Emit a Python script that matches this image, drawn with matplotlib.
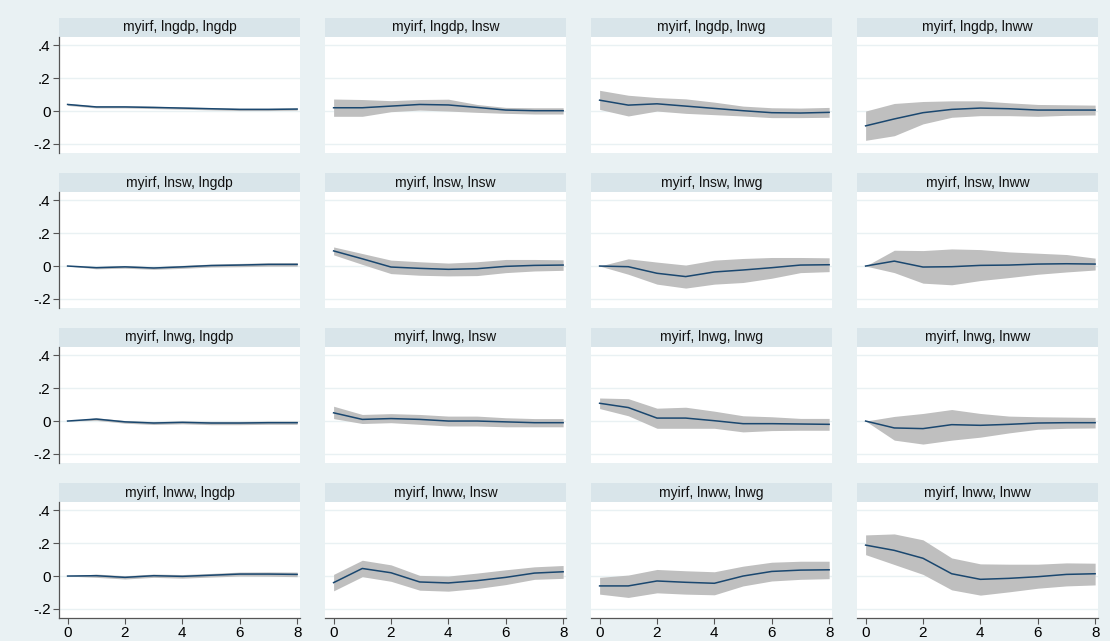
import numpy as np
import matplotlib.pyplot as plt
from matplotlib.patches import Rectangle

# variable order (impulse = row, response = column)
VARS = ["lngdp", "lnsw", "lnwg", "lnww"]
STEPS = [0, 1, 2, 3, 4, 5, 6, 7, 8]

# irf point estimates
irf = {
    ("lngdp", "lngdp"): [0.040, 0.025, 0.025, 0.022, 0.018, 0.014, 0.010, 0.010, 0.012],
    ("lngdp", "lnsw"): [0.020, 0.020, 0.030, 0.040, 0.037, 0.022, 0.006, 0.002, 0.002],
    ("lngdp", "lnwg"): [0.066, 0.036, 0.044, 0.030, 0.016, 0.002, -0.010, -0.012, -0.008],
    ("lngdp", "lnww"): [-0.090, -0.048, -0.010, 0.010, 0.018, 0.014, 0.006, 0.006, 0.006],
    ("lnsw", "lngdp"): [0.000, -0.010, -0.005, -0.012, -0.005, 0.003, 0.006, 0.010, 0.010],
    ("lnsw", "lnsw"): [0.092, 0.044, -0.006, -0.014, -0.020, -0.016, -0.002, 0.004, 0.006],
    ("lnsw", "lnwg"): [0.000, -0.004, -0.044, -0.064, -0.036, -0.024, -0.010, 0.006, 0.008],
    ("lnsw", "lnww"): [0.000, 0.030, -0.006, -0.004, 0.004, 0.006, 0.012, 0.014, 0.012],
    ("lnwg", "lngdp"): [0.000, 0.012, -0.005, -0.012, -0.008, -0.012, -0.012, -0.010, -0.010],
    ("lnwg", "lnsw"): [0.050, 0.010, 0.015, 0.010, 0.000, 0.000, -0.005, -0.010, -0.010],
    ("lnwg", "lnwg"): [0.108, 0.082, 0.018, 0.018, 0.002, -0.016, -0.016, -0.018, -0.020],
    ("lnwg", "lnww"): [0.000, -0.042, -0.046, -0.022, -0.026, -0.020, -0.012, -0.010, -0.010],
    ("lnww", "lngdp"): [0.000, 0.002, -0.008, 0.002, -0.002, 0.005, 0.012, 0.012, 0.010],
    ("lnww", "lnsw"): [-0.040, 0.046, 0.020, -0.036, -0.042, -0.028, -0.008, 0.018, 0.026],
    ("lnww", "lnwg"): [-0.060, -0.060, -0.030, -0.038, -0.044, 0.000, 0.028, 0.036, 0.038],
    ("lnww", "lnww"): [0.188, 0.156, 0.108, 0.014, -0.020, -0.014, -0.004, 0.010, 0.014],
}

# upper confidence bound
upper = {
    ("lngdp", "lngdp"): [0.046, 0.031, 0.031, 0.029, 0.025, 0.021, 0.017, 0.017, 0.019],
    ("lngdp", "lnsw"): [0.073, 0.070, 0.063, 0.070, 0.072, 0.040, 0.022, 0.020, 0.020],
    ("lngdp", "lnwg"): [0.126, 0.096, 0.082, 0.074, 0.054, 0.030, 0.020, 0.018, 0.022],
    ("lngdp", "lnww"): [0.000, 0.046, 0.058, 0.062, 0.062, 0.050, 0.040, 0.038, 0.036],
    ("lnsw", "lngdp"): [0.000, -0.003, 0.003, -0.004, 0.004, 0.012, 0.016, 0.020, 0.021],
    ("lnsw", "lnsw"): [0.116, 0.076, 0.036, 0.026, 0.018, 0.026, 0.040, 0.040, 0.038],
    ("lnsw", "lnwg"): [0.000, 0.044, 0.024, 0.006, 0.036, 0.046, 0.052, 0.052, 0.050],
    ("lnsw", "lnww"): [0.000, 0.096, 0.094, 0.104, 0.100, 0.086, 0.078, 0.070, 0.048],
    ("lnwg", "lngdp"): [0.000, 0.020, 0.003, -0.003, 0.001, -0.002, -0.002, 0.000, 0.000],
    ("lnwg", "lnsw"): [0.090, 0.040, 0.045, 0.040, 0.030, 0.030, 0.020, 0.015, 0.015],
    ("lnwg", "lnwg"): [0.140, 0.136, 0.078, 0.084, 0.060, 0.032, 0.026, 0.016, 0.016],
    ("lnwg", "lnww"): [0.000, 0.028, 0.046, 0.070, 0.046, 0.030, 0.026, 0.024, 0.022],
    ("lnww", "lngdp"): [0.000, 0.012, 0.002, 0.012, 0.009, 0.016, 0.024, 0.025, 0.024],
    ("lnww", "lnsw"): [0.010, 0.096, 0.068, 0.004, 0.000, 0.018, 0.038, 0.056, 0.064],
    ("lnww", "lnwg"): [-0.008, 0.006, 0.040, 0.032, 0.026, 0.060, 0.084, 0.090, 0.090],
    ("lnww", "lnww"): [0.250, 0.256, 0.220, 0.110, 0.074, 0.072, 0.072, 0.080, 0.078],
}

# lower confidence bound
lower = {
    ("lngdp", "lngdp"): [0.034, 0.019, 0.019, 0.015, 0.011, 0.007, 0.003, 0.003, 0.005],
    ("lngdp", "lnsw"): [-0.032, -0.032, -0.004, 0.006, 0.000, -0.008, -0.014, -0.018, -0.018],
    ("lngdp", "lnwg"): [0.010, -0.030, 0.000, -0.014, -0.022, -0.030, -0.040, -0.040, -0.038],
    ("lngdp", "lnww"): [-0.178, -0.150, -0.078, -0.038, -0.028, -0.028, -0.032, -0.026, -0.024],
    ("lnsw", "lngdp"): [0.000, -0.017, -0.013, -0.020, -0.014, -0.006, -0.004, -0.001, -0.001],
    ("lnsw", "lnsw"): [0.068, 0.010, -0.046, -0.056, -0.060, -0.058, -0.040, -0.030, -0.026],
    ("lnsw", "lnwg"): [0.000, -0.050, -0.110, -0.134, -0.110, -0.100, -0.074, -0.040, -0.034],
    ("lnsw", "lnww"): [0.000, -0.040, -0.104, -0.114, -0.088, -0.070, -0.050, -0.036, -0.024],
    ("lnwg", "lngdp"): [0.000, 0.004, -0.013, -0.021, -0.017, -0.022, -0.022, -0.020, -0.020],
    ("lnwg", "lnsw"): [0.015, -0.015, -0.010, -0.020, -0.030, -0.030, -0.035, -0.035, -0.035],
    ("lnwg", "lnwg"): [0.076, 0.032, -0.044, -0.044, -0.044, -0.066, -0.058, -0.056, -0.056],
    ("lnwg", "lnww"): [0.000, -0.116, -0.140, -0.116, -0.098, -0.072, -0.050, -0.044, -0.042],
    ("lnww", "lngdp"): [0.000, -0.008, -0.018, -0.008, -0.013, -0.006, 0.000, -0.001, -0.004],
    ("lnww", "lnsw"): [-0.090, -0.004, -0.032, -0.086, -0.092, -0.076, -0.052, -0.020, -0.014],
    ("lnww", "lnwg"): [-0.110, -0.130, -0.102, -0.110, -0.114, -0.060, -0.030, -0.020, -0.016],
    ("lnww", "lnww"): [0.130, 0.070, 0.010, -0.084, -0.116, -0.096, -0.074, -0.060, -0.054],
}

YTICKS = [-0.2, 0, 0.2, 0.4]
YTICKLABELS = ["-.2", "0", ".2", ".4"]
XTICKS = [0, 2, 4, 6, 8]

BG = "#e9f1f3"
STRIP = "#d9e5ea"
LINE = "#1a476f"
BAND = "#bfbfbf"

plt.rcParams["font.family"] = ["Liberation Sans", "DejaVu Sans"]

W, H = 1110, 641
fig = plt.figure(figsize=(W / 100, H / 100), dpi=100)
fig.patch.set_facecolor(BG)

left0, col_step, ax_w = 59, 266, 241
top0, row_step, strip_h, ax_h = 18, 155, 19, 116

for i, imp in enumerate(VARS):
    for j, resp in enumerate(VARS):
        x0 = left0 + j * col_step
        y_top = top0 + i * row_step + strip_h
        ax = fig.add_axes([x0 / W, 1 - (y_top + ax_h) / H, ax_w / W, ax_h / H])
        ax.set_facecolor("white")

        key = (imp, resp)
        ax.fill_between(STEPS, lower[key], upper[key], color=BAND, lw=0, zorder=2)
        ax.plot(STEPS, irf[key], color=LINE, lw=1.1, zorder=3)

        ax.set_xlim(-0.3, 8.1)
        ax.set_ylim(-0.255, 0.45)
        ax.set_yticks(YTICKS)
        ax.set_xticks(XTICKS)
        ax.grid(axis="y", color=BG, lw=1.0, zorder=1)
        ax.set_axisbelow(True)

        for s in ["top", "right"]:
            ax.spines[s].set_visible(False)
        ax.spines["left"].set_visible(j == 0)
        ax.spines["bottom"].set_visible(i == 3)
        for s in ["left", "bottom"]:
            ax.spines[s].set_color("#555555")
            ax.spines[s].set_linewidth(0.9)

        if j == 0:
            ax.set_yticklabels(YTICKLABELS)
            ax.tick_params(axis="y", length=4, color="#555555", labelsize=11, pad=2)
        else:
            ax.tick_params(axis="y", length=0, labelleft=False)
        if i == 3:
            ax.tick_params(axis="x", length=4, color="#555555", labelsize=11, pad=2)
        else:
            ax.tick_params(axis="x", length=0, labelbottom=False)

        # header strip above each panel
        sh = strip_h / ax_h
        ax.add_patch(Rectangle((0, 1), 1, sh, transform=ax.transAxes,
                               facecolor=STRIP, edgecolor="none", clip_on=False))
        ax.text(0.5, 1 + sh / 2, "myirf, %s, %s" % (imp, resp), transform=ax.transAxes,
                ha="center", va="center", fontsize=10, color="#111111")

fig.savefig("out.png", dpi=100, facecolor=BG)
